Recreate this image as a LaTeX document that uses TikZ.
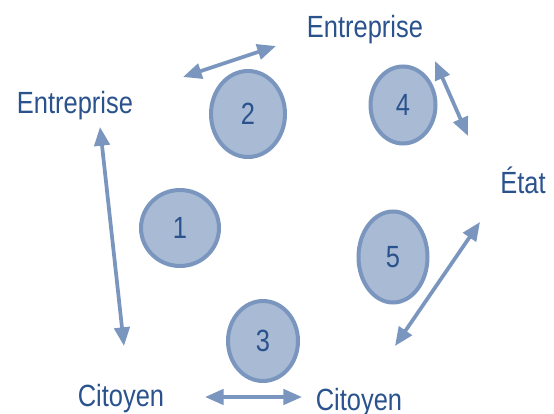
\documentclass[tikz,border=0pt]{standalone}
\usepackage{fontspec}
\setmainfont{Liberation Sans}[FakeStretch=0.83]
\usetikzlibrary{arrows.meta,shapes.geometric}

\definecolor{labelblue}{RGB}{42,82,140}
\definecolor{ringblue}{RGB}{122,150,190}
\definecolor{discfill}{RGB}{168,186,212}

\tikzset{
  actor/.style={text=labelblue,font=\fontsize{23}{23}\selectfont,inner sep=0pt,anchor=base},
  stepdisc/.style={ellipse,draw=ringblue,fill=discfill,line width=3pt,inner sep=0pt,
    text=labelblue,font=\fontsize{23}{23}\selectfont},
  exchange/.style={draw=ringblue,line width=2.8pt,
    {Triangle[length=14pt,width=11.5pt]}-{Triangle[length=14pt,width=11.5pt]}}
}

\begin{document}
\begin{tikzpicture}[x=0.75pt,y=-0.75pt]
\useasboundingbox (0,0) rectangle (554,414);

% actors
\node[actor] (entL) at (75,113) {Entreprise};
\node[actor] (entT) at (365,37) {Entreprise};
\node[actor] (etat) at (523,193) {État};
\node[actor] (citL) at (121,406) {Citoyen};
\node[actor] (citR) at (359,410) {Citoyen};

% numbered discs
\node[stepdisc,minimum width=58.5pt,minimum height=57pt] (s1) at (180,228) {1};
\node[stepdisc,minimum width=55.5pt,minimum height=64.5pt] (s2) at (248,114) {2};
\node[stepdisc,minimum width=52.5pt,minimum height=60pt] (s3) at (263,341) {3};
\node[stepdisc,minimum width=48.75pt,minimum height=57.75pt] (s4) at (403,105) {4};
\node[stepdisc,minimum width=51.75pt,minimum height=68.25pt] (s5) at (393,257) {5};

% arrow ends
\coordinate (aEntL) at (100,127);
\coordinate (aCitL) at (124,346);
\coordinate (bEntL) at (183,77);
\coordinate (bEntT) at (276,46);
\coordinate (cCitL) at (205,397);
\coordinate (cCitR) at (302,397);
\coordinate (dEntT) at (435,61);
\coordinate (dEtat) at (468,136);
\coordinate (eEtat) at (480,222);
\coordinate (eCitR) at (395,346);

\draw[exchange] (aEntL) -- (aCitL);
\draw[exchange] (bEntL) -- (bEntT);
\draw[exchange] (cCitL) -- (cCitR);
\draw[exchange] (dEntT) -- (dEtat);
\draw[exchange] (eEtat) -- (eCitR);
\end{tikzpicture}
\end{document}
